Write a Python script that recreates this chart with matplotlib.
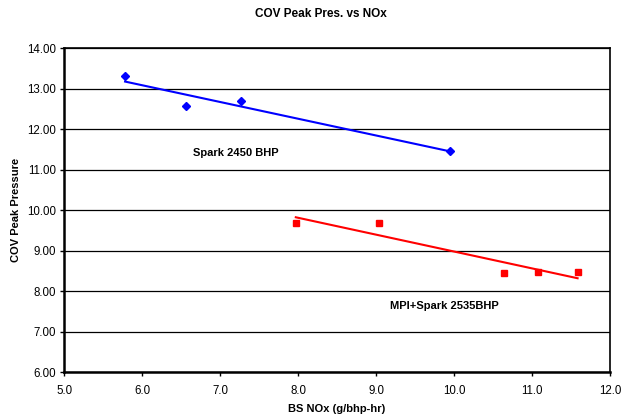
import numpy as np
import matplotlib
matplotlib.use("Agg")
import matplotlib.pyplot as plt

plt.rcParams['font.family'] = ['Liberation Sans', 'DejaVu Sans']

# Spark 2450 BHP
spark_nox = [5.78, 6.56, 7.27, 9.95]
spark_cov = [13.32, 12.58, 12.69, 11.46]

# MPI+Spark 2535BHP
mpi_nox = [7.97, 9.04, 10.64, 11.08, 11.585]
mpi_cov = [9.69, 9.69, 8.44, 8.48, 8.48]

x_ticks = [5.0, 6.0, 7.0, 8.0, 9.0, 10.0, 11.0, 12.0]
y_ticks = [6.0, 7.0, 8.0, 9.0, 10.0, 11.0, 12.0, 13.0, 14.0]

fig = plt.figure(figsize=(6.21, 4.18), dpi=100)
ax = fig.add_axes([0.1035, 0.1093, 0.8787, 0.7752])

for y in y_ticks:
    ax.axhline(y, color='black', lw=0.9, zorder=1)


def trend(xs, ys):
    m, b = np.polyfit(xs, ys, 1)
    xx = np.array([min(xs), max(xs)])
    return xx, m * xx + b


ax.plot(spark_nox, spark_cov, linestyle='none', marker='D', ms=4.3,
        color='#0000FF', zorder=3)
tx, ty = trend(spark_nox, spark_cov)
ax.plot(tx, ty, color='#0000FF', lw=1.5, zorder=2)

ax.plot(mpi_nox, mpi_cov, linestyle='none', marker='s', ms=4.3,
        color='#FF0000', zorder=3)
tx, ty = trend(mpi_nox, mpi_cov)
ax.plot(tx, ty, color='#FF0000', lw=1.5, zorder=2)

ax.set_xlim(5.0, 12.0)
ax.set_ylim(6.0, 14.0)
ax.set_xticks(x_ticks)
ax.set_xticklabels([f"{v:.1f}" for v in x_ticks])
ax.set_yticks(y_ticks)
ax.set_yticklabels([f"{v:.2f}" for v in y_ticks])
ax.tick_params(axis='both', labelsize=8.3, direction='out', length=3,
               width=1, colors='black')
ax.tick_params(axis='x', pad=6)
ax.tick_params(axis='y', pad=3)

for side in ['left', 'bottom']:
    ax.spines[side].set_linewidth(1.8)
for side in ['right', 'top']:
    ax.spines[side].set_linewidth(1.2)

ax.text(7.2, 11.42, "Spark 2450 BHP", fontsize=8, fontweight='bold',
        ha='center', va='center')
ax.text(9.88, 7.64, "MPI+Spark 2535BHP", fontsize=8, fontweight='bold',
        ha='center', va='center')

ax.set_xlabel("BS NOx (g/bhp-hr)", fontsize=8, fontweight='bold', labelpad=5)
ax.set_ylabel("COV Peak Pressure", fontsize=8, fontweight='bold', labelpad=4)
fig.suptitle("COV Peak Pres. vs NOx", fontsize=8.5, fontweight='bold',
             x=0.517, y=0.98)

fig.savefig("out.png", dpi=100)
